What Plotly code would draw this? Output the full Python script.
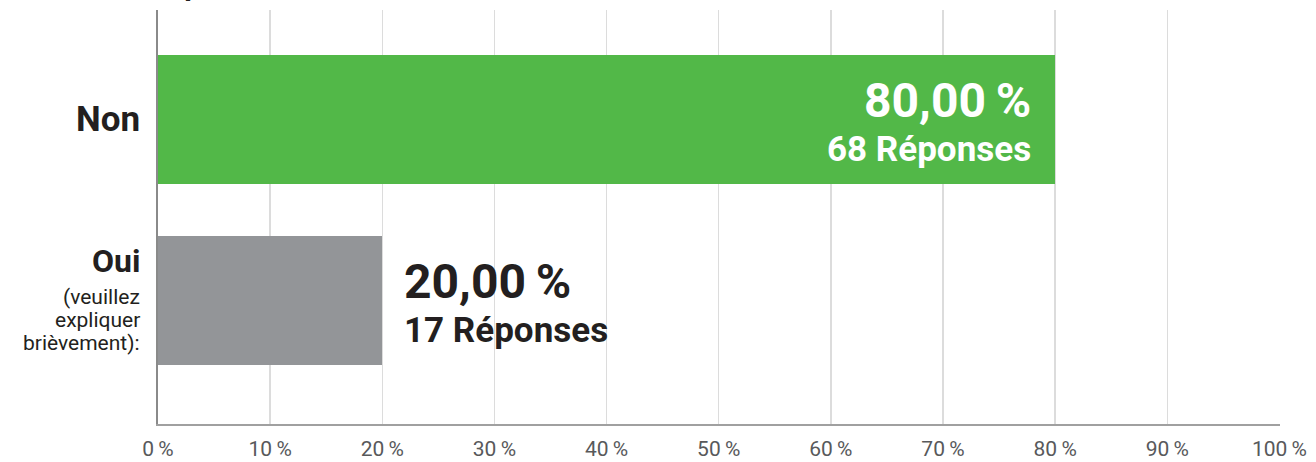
import plotly.graph_objects as go

categories = ["Oui", "Non"]
percent_values = [20.0, 80.0]
response_counts = [17, 68]
bar_colors = ["#939598", "#52b848"]
pct_label_colors = ["#231f20", "#ffffff"]
total_label = "85 Réponses"
oui_note_lines = ["(veuillez", "expliquer", "brièvement):"]
tick_values = [0, 10, 20, 30, 40, 50, 60, 70, 80, 90, 100]
tick_labels = [f"{v}\u2009%" for v in tick_values]

FONT = "Roboto, 'DejaVu Sans', sans-serif"

fig = go.Figure()
fig.add_trace(go.Bar(
    y=categories, x=percent_values, orientation="h",
    marker=dict(color=bar_colors, line=dict(width=0)),
    width=0.713, hoverinfo="skip",
))

ann = []
for cat, val, cnt, col in zip(categories, percent_values, response_counts, pct_label_colors):
    pct = f"{val:.2f}".replace(".", ",") + "\u2009%"
    if val >= 50:
        xa, xs = "right", -22
    else:
        xa, xs = "left", 20
    ann.append(dict(x=val, y=cat, xref="x", yref="y", text=f"<b>{pct}</b>",
                    showarrow=False, xanchor=xa, yanchor="middle", xshift=xs, yshift=19,
                    font=dict(family=FONT, size=48, color=col)))
    ann.append(dict(x=val, y=cat, xref="x", yref="y", text=f"<b>{cnt} Réponses</b>",
                    showarrow=False, xanchor=xa, yanchor="middle", xshift=xs, yshift=-30,
                    font=dict(family=FONT, size=35, color=col)))

# category labels on the left
ann.append(dict(x=0, y="Non", xref="paper", yref="y", text="<b>Non</b>", showarrow=False,
                xanchor="right", yanchor="middle", xshift=-16,
                font=dict(family=FONT, size=35, color="#231f20")))
ann.append(dict(x=0, y="Oui", xref="paper", yref="y", text="<b>Oui</b>", showarrow=False,
                xanchor="right", yanchor="middle", xshift=-16, yshift=40,
                font=dict(family=FONT, size=32, color="#231f20")))
for i, line in enumerate(oui_note_lines):
    ann.append(dict(x=0, y="Oui", xref="paper", yref="y", text=line, showarrow=False,
                    xanchor="right", yanchor="middle", xshift=-16, yshift=4 - 23 * i,
                    font=dict(family=FONT, size=21, color="#231f20")))
# top (cut off) total label
ann.append(dict(x=-0.047, y=1, xref="paper", yref="paper", text=f"<b>{total_label}</b>",
                showarrow=False, xanchor="left", yanchor="bottom", yshift=6,
                font=dict(family=FONT, size=30, color="#231f20")))

fig.update_layout(
    width=1316, height=462,
    margin=dict(l=158, r=36, t=10, b=38, autoexpand=False),
    paper_bgcolor="white", plot_bgcolor="white",
    showlegend=False, bargap=0,
    annotations=ann,
    xaxis=dict(range=[0, 100.05], tickvals=tick_values, ticktext=tick_labels,
               showgrid=True, gridcolor="#dcdcdc", gridwidth=1.5,
               showline=True, linecolor="#a0a0a0", linewidth=1.5,
               zeroline=False, ticks="", ticklabelstandoff=5, automargin=False,
               tickfont=dict(family=FONT, size=21, color="#58595b"), fixedrange=True),
    yaxis=dict(categoryorder="array", categoryarray=categories,
               range=[-0.682, 1.605], showticklabels=False, showgrid=False,
               showline=True, linecolor="#8a8a8a", linewidth=2, zeroline=False,
               ticks="", fixedrange=True, automargin=False),
)

fig.write_html(
    "out.html",
    config={"displayModeBar": False, "staticPlot": True},
    post_script="document.body.style.margin='0';document.body.style.overflow='hidden';",
)
